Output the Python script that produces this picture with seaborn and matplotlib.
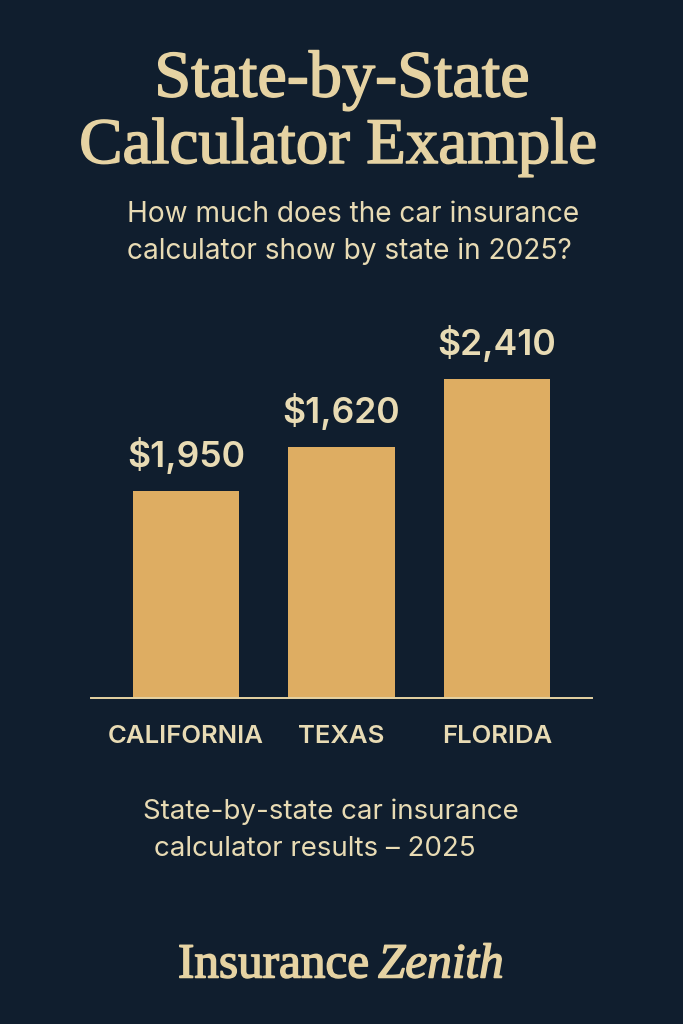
import matplotlib
matplotlib.use('Agg')
import matplotlib.pyplot as plt
import matplotlib.patheffects as pe
import pandas as pd
import seaborn as sns

# data
states = ['CALIFORNIA', 'TEXAS', 'FLORIDA']
bar_heights = [1564, 1897, 2410]  # drawn heights, they do not follow the printed labels
value_labels = ['$1,950', '$1,620', '$2,410']

BG = '#101E2E'
BAR = '#DEAD62'
CREAM = '#E6D3A3'
TEXT = '#E8DBB4'

sns.set_theme(style='white')
plt.rcParams['font.family'] = ['Inter', 'DejaVu Sans']

fig = plt.figure(figsize=(6.83, 10.24), dpi=100, facecolor=BG)
W, H = 683, 1024

# axes span the baseline rule, x 91-592, bottom at y 697.5
ax = fig.add_axes([91 / W, 1 - 697.5 / H, 501 / W, 397.5 / H], facecolor=BG)
df = pd.DataFrame({'state': states, 'height': bar_heights})
sns.barplot(data=df, x='state', y='height', color=BAR, saturation=1, width=0.688,
            linewidth=0, ax=ax)
ax.set_xlim(-0.611, 2.611)
ax.set_ylim(0, 2410 * 397.5 / 318.5)
ax.set_xlabel('')
ax.set_ylabel('')
ax.set_yticks([])
for s in ['top', 'left', 'right']:
    ax.spines[s].set_visible(False)
ax.spines['bottom'].set_color(CREAM)
ax.spines['bottom'].set_linewidth(1.4)
ax.tick_params(axis='x', length=0, pad=20)
for lab in ax.get_xticklabels():
    lab.set_fontsize(18.5)
    lab.set_color(TEXT)
    lab.set_fontweight('semibold')
    lab.set_family(['Inter', 'DejaVu Sans'])

for bar, txt in zip(ax.patches, value_labels):
    ax.annotate(txt, (bar.get_x() + bar.get_width() / 2, bar.get_height()),
                xytext=(0, 17), textcoords='offset pixels', ha='center', va='bottom',
                fontsize=25.6, color=TEXT, fontweight='semibold')


def put(x, y, s, **kw):
    return fig.text(x / W, 1 - y / H, s, **kw)


# title
stroke = [pe.withStroke(linewidth=1.1, foreground=CREAM)]
put(342, 96.5, 'State-by-State', ha='center', va='baseline', fontsize=47.7, color=CREAM,
    family=['Liberation Serif'], path_effects=stroke)
put(338, 163, 'Calculator Example', ha='center', va='baseline', fontsize=46.8, color=CREAM,
    family=['Liberation Serif'], path_effects=stroke)

# subtitle
for y, line in [(222, 'How much does the car insurance'), (259, 'calculator show by state in 2025?')]:
    put(127, y, line, ha='left', va='baseline', fontsize=20.2, color=TEXT)

# footnote
put(143, 819, 'State-by-state car insurance', ha='left', va='baseline', fontsize=19.95, color=TEXT)
put(154, 856, 'calculator results – 2025', ha='left', va='baseline', fontsize=19.95, color=TEXT)

# brand
put(178, 977.5, 'Insurance', ha='left', va='baseline', fontsize=35.4, color=CREAM,
    family=['Liberation Serif'], path_effects=stroke)
put(378, 977.5, 'Zenith', ha='left', va='baseline', fontsize=35.4, color=CREAM, style='italic',
    family=['Liberation Serif'], path_effects=stroke)

fig.savefig('out.png', dpi=100, facecolor=BG)
